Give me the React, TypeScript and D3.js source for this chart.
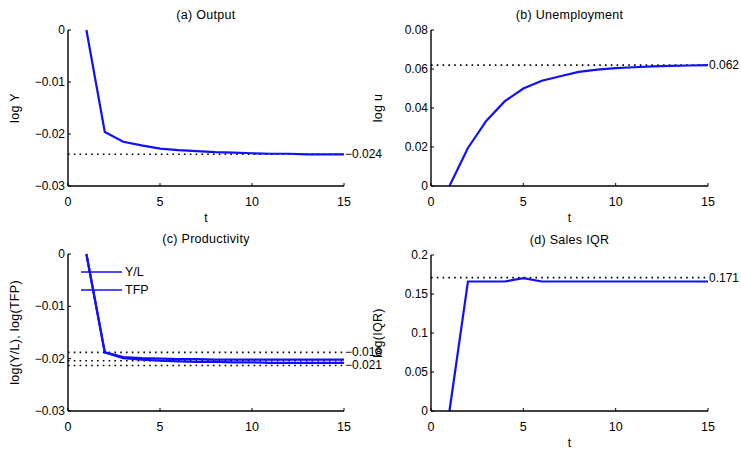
import React from "react";
import * as d3 from "d3";

const tValues = [1, 2, 3, 4, 5, 6, 7, 8, 9, 10, 11, 12, 13, 14, 15];
const outputY = [0, -0.0196, -0.0215, -0.0222, -0.0228, -0.0231, -0.0233, -0.0235, -0.0236, -0.0237, -0.0238, -0.0238, -0.0239, -0.0239, -0.0239];
const unempY = [0, 0.0195, 0.0335, 0.0435, 0.05, 0.054, 0.0563, 0.0585, 0.0597, 0.0604, 0.0609, 0.0613, 0.0616, 0.0618, 0.062];
const ylY = [0, -0.0188, -0.0197, -0.0199, -0.02, -0.0201, -0.0201, -0.0202, -0.0202, -0.0202, -0.0202, -0.0202, -0.0202, -0.0202, -0.0202];
const tfpY = [0, -0.0188, -0.0199, -0.0202, -0.0204, -0.0205, -0.0206, -0.0206, -0.0207, -0.0207, -0.0208, -0.0208, -0.0208, -0.0208, -0.0208];
const iqrY = [0, 0.166, 0.166, 0.166, 0.1703, 0.166, 0.166, 0.166, 0.166, 0.166, 0.166, 0.166, 0.166, 0.166, 0.166];

const xTicks = [0, 5, 10, 15];
const outputTicks = [0, -0.01, -0.02, -0.03];
const unempTicks = [0, 0.02, 0.04, 0.06, 0.08];
const prodTicks = [0, -0.01, -0.02, -0.03];
const iqrTicks = [0, 0.05, 0.1, 0.15, 0.2];

const outputRef = [{ v: -0.0239, label: "\u22120.024" }];
const unempRef = [{ v: 0.062, label: "0.062" }];
const prodRef = [
  { v: -0.0188, label: "\u22120.018" },
  { v: -0.0204, label: "" },
  { v: -0.0213, label: "\u22120.021" },
];
const iqrRef = [{ v: 0.171, label: "0.171" }];

const legendLabels = ["Y/L", "TFP"];

const FONT = "'Liberation Sans', Arial, Helvetica, sans-serif";
const BLUE = "#1010ff";

function fmt(v: number): string {
  if (v === 0) return "0";
  const s = String(Math.abs(v));
  return (v < 0 ? "\u2212" : "") + s;
}

type PanelProps = {
  x0: number;
  x1: number;
  y0: number;
  y1: number;
  yDomain: [number, number];
  yTicks: number[];
  title: string;
  yLabel: string;
  series: number[][];
  refs: { v: number; label: string }[];
  showT: boolean;
  legend?: string[];
};

function Panel(p: PanelProps) {
  const xs = d3.scaleLinear().domain([0, 15]).range([p.x0, p.x1]);
  const ys = d3.scaleLinear().domain(p.yDomain).range([p.y1, p.y0]);
  const line = d3
    .line<number>()
    .x((_, i) => xs(tValues[i]))
    .y((d) => ys(d));
  const cx = (p.x0 + p.x1) / 2;
  const cy = (p.y0 + p.y1) / 2;
  return (
    <g fontFamily={FONT} fill="#000">
      <text x={cx} y={p.y0 - 11} textAnchor="middle" fontSize={12.5} letterSpacing={0.3}>
        {p.title}
      </text>
      {p.refs.map((r, i) => (
        <g key={i}>
          <line
            x1={xs(0)}
            x2={xs(15)}
            y1={ys(r.v)}
            y2={ys(r.v)}
            stroke="#000"
            strokeWidth={1.6}
            strokeDasharray="1.6,4.2"
          />
          {r.label && (
            <text x={xs(15) + 1} y={ys(r.v) + 4} fontSize={12}>
              {r.label}
            </text>
          )}
        </g>
      ))}
      {p.series.map((s, i) => (
        <path key={i} d={line(s) || ""} fill="none" stroke={BLUE} strokeWidth={2.2} />
      ))}
      {p.legend &&
        p.legend.map((lab, i) => (
          <g key={lab}>
            <line
              x1={p.x0 + 13}
              x2={p.x0 + 54}
              y1={p.y0 + 18 + i * 18}
              y2={p.y0 + 18 + i * 18}
              stroke={BLUE}
              strokeWidth={1.4}
            />
            <text x={p.x0 + 57} y={p.y0 + 22 + i * 18} fontSize={12.5}>
              {lab}
            </text>
          </g>
        ))}
      <line x1={p.x0} x2={p.x0} y1={p.y0} y2={p.y1} stroke="#000" strokeWidth={1.4} />
      <line x1={p.x0} x2={p.x1} y1={p.y1} y2={p.y1} stroke="#000" strokeWidth={1.4} />
      {p.yTicks.map((t) => (
        <g key={t}>
          <line x1={p.x0} x2={p.x0 + 3} y1={ys(t)} y2={ys(t)} stroke="#000" strokeWidth={1} />
          <text x={p.x0 - 3} y={ys(t) + 4} textAnchor="end" fontSize={12}>
            {fmt(t)}
          </text>
        </g>
      ))}
      {xTicks.map((t) => (
        <g key={t}>
          <line x1={xs(t)} x2={xs(t)} y1={p.y1} y2={p.y1 - 3} stroke="#000" strokeWidth={1} />
          <text x={xs(t)} y={p.y1 + 20} textAnchor="middle" fontSize={12.5}>
            {t}
          </text>
        </g>
      ))}
      {p.showT && (
        <text x={cx} y={p.y1 + 36} textAnchor="middle" fontSize={12}>
          t
        </text>
      )}
      <text
        transform={`translate(${p.x0 - 49},${cy}) rotate(-90)`}
        textAnchor="middle"
        fontSize={12.5}
        letterSpacing={0.3}
      >
        {p.yLabel}
      </text>
    </g>
  );
}

export default function App() {
  return (
    <svg
      width={741}
      height={449}
      style={{ position: "absolute", left: 0, top: 0, background: "#fff" }}
    >
      <rect width={741} height={449} fill="#fff" />
      <Panel
        x0={68}
        x1={344}
        y0={30}
        y1={186}
        yDomain={[-0.03, 0]}
        yTicks={outputTicks}
        title="(a) Output"
        yLabel="log Y"
        series={[outputY]}
        refs={outputRef}
        showT={true}
      />
      <Panel
        x0={431}
        x1={708}
        y0={30}
        y1={186}
        yDomain={[0, 0.08]}
        yTicks={unempTicks}
        title="(b) Unemployment"
        yLabel="log u"
        series={[unempY]}
        refs={unempRef}
        showT={true}
      />
      <Panel
        x0={68}
        x1={344}
        y0={254}
        y1={411}
        yDomain={[-0.03, 0]}
        yTicks={prodTicks}
        title="(c) Productivity"
        yLabel="log(Y/L), log(TFP)"
        series={[ylY, tfpY]}
        refs={prodRef}
        showT={false}
        legend={legendLabels}
      />
      <Panel
        x0={431}
        x1={708}
        y0={255}
        y1={411}
        yDomain={[0, 0.2]}
        yTicks={iqrTicks}
        title="(d) Sales IQR"
        yLabel="log(IQR)"
        series={[iqrY]}
        refs={iqrRef}
        showT={true}
      />
    </svg>
  );
}
